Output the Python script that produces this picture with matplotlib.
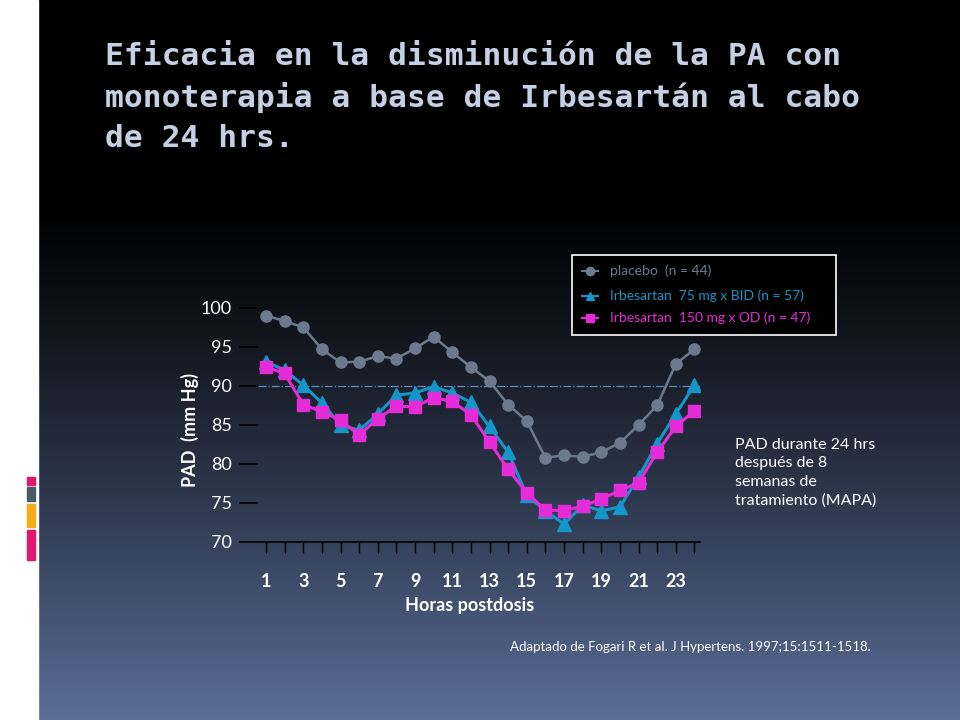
import numpy as np
import matplotlib
matplotlib.use("Agg")
import matplotlib.pyplot as plt
from matplotlib.patches import Rectangle

hours = list(range(1, 25))
placebo = [99.0, 98.3, 97.5, 94.7, 93.0, 93.1, 93.8, 93.5, 94.8, 96.3, 94.3, 92.4,
           90.6, 87.6, 85.5, 80.8, 81.1, 80.9, 81.5, 82.7, 85.0, 87.5, 92.8, 94.7]
irb75 = [93.1, 92.0, 90.1, 87.8, 85.0, 84.3, 86.4, 88.8, 89.1, 89.9, 89.1, 87.9,
         84.8, 81.5, 76.0, 74.0, 72.3, 74.7, 74.0, 74.5, 78.3, 82.6, 86.4, 90.1]
irb150 = [92.4, 91.6, 87.6, 86.7, 85.6, 83.7, 85.8, 87.4, 87.3, 88.5, 88.0, 86.3,
          82.8, 79.3, 76.3, 74.1, 74.0, 74.6, 75.5, 76.6, 77.6, 81.5, 84.8, 86.8]
labels = ["placebo  (n = 44)", "Irbesartan  75 mg x BID (n = 57)", "Irbesartan  150 mg x OD (n = 47)"]
yticks = [70, 75, 80, 85, 90, 95, 100]
xticklabels = [1, 3, 5, 7, 9, 11, 13, 15, 17, 19, 21, 23]

plt.rcParams["font.family"] = "Lato"
W, H = 960, 720
fig = plt.figure(figsize=(9.6, 7.2), dpi=100)
bg = fig.add_axes([0, 0, 1, 1])
grad = np.linspace(0, 1, 256)[:, None]
top = np.array([0, 0, 0]); bot = np.array([0x5a, 0x6e, 0x98]) / 255
g = np.clip((grad - 0.28) / 0.72, 0, 1) ** 1.2
img = top[None, None, :] * (1 - g[..., None]) + bot[None, None, :] * g[..., None]
img = np.repeat(img, 2, axis=1)
bg.imshow(img, aspect="auto", extent=[0, W, H, 0])
bg.set_xlim(0, W); bg.set_ylim(H, 0); bg.axis("off")
bg.add_patch(Rectangle((0, 0), 38, H, color="white"))
for y0, y1, c in [(477, 485, "#e0176f"), (487, 501, "#4a5a6a"), (504, 527, "#f5ac18"), (530, 560, "#e0176f")]:
    bg.add_patch(Rectangle((27, y0), 8, y1 - y0, color=c))

fig.text(105 / W, 1 - 42 / H,
         "Eficacia en la disminución de la PA con\nmonoterapia a base de Irbesartán al cabo\nde 24 hrs.",
         color="#c5d0e4", fontsize=22.5, family="DejaVu Sans Mono", fontweight="bold",
         va="top", ha="left", linespacing=1.45)

x0, x1 = 0.57, 24.3
ax = fig.add_axes([258 / W, 1 - 542 / H, (700 - 258) / W, (542 - 300) / H])
ax.patch.set_alpha(0)
ax.set_xlim(x0, x1); ax.set_ylim(70, 101)
for s in ["top", "right", "left"]:
    ax.spines[s].set_visible(False)
ax.spines["bottom"].set_color("black"); ax.spines["bottom"].set_linewidth(1.2)
ax.set_xticks(hours)
ax.set_xticklabels([str(h) if h in xticklabels else "" for h in hours])
ax.tick_params(axis="x", colors="black", length=8, width=1, labelcolor="white",
               labelsize=13, pad=14)
for t in ax.get_xticklabels():
    t.set_fontweight("bold")
ax.set_yticks(yticks)
ax.tick_params(axis="y", colors="black", length=14, width=1.2, labelcolor="white",
               labelsize=13, pad=5)
ax.axhline(90, xmin=0, xmax=1, color="#5a8cc0", lw=0.9, ls="-.")
ax.plot(hours, placebo, color="#6d7a8e", marker="o", ms=8, lw=1.8)
ax.plot(hours, irb75, color="#1595c8", marker="^", ms=10, lw=2.2)
ax.plot(hours, irb150, color="#e62bd8", marker="s", ms=9, lw=2.2)

fig.text(190 / W, 1 - 430 / H, "PAD  (mm Hg)", color="white", fontsize=13,
         fontweight="bold", rotation=90, ha="center", va="center")
fig.text(470 / W, 1 - 605 / H, "Horas postdosis", color="white", fontsize=13,
         fontweight="bold", ha="center", va="center")
fig.text(735 / W, 1 - 438 / H, "PAD durante 24 hrs\ndespués de 8\nsemanas de\ntratamiento (MAPA)",
         color="white", fontsize=11.5, ha="left", va="top", linespacing=1.4)
fig.text(510 / W, 1 - 647 / H, "Adaptado de Fogari R et al. J Hypertens. 1997;15:1511-1518.",
         color="white", fontsize=9.5, ha="left", va="center")

bg.add_patch(Rectangle((572, 255), 264, 80, facecolor="black", edgecolor="white", lw=1.2))
ly = [271, 296, 318]
cols = ["#6d7a8e", "#1595c8", "#e62bd8"]
mk = ["o", "^", "s"]
for y, lab, c, m in zip(ly, labels, cols, mk):
    bg.plot([582, 598], [y, y], color=c, lw=1.5)
    bg.plot([590], [y], marker=m, color=c, ms=6)
    bg.text(610, y, lab, color=c, fontsize=10, va="center", ha="left")

fig.savefig("out.png", dpi=100)
